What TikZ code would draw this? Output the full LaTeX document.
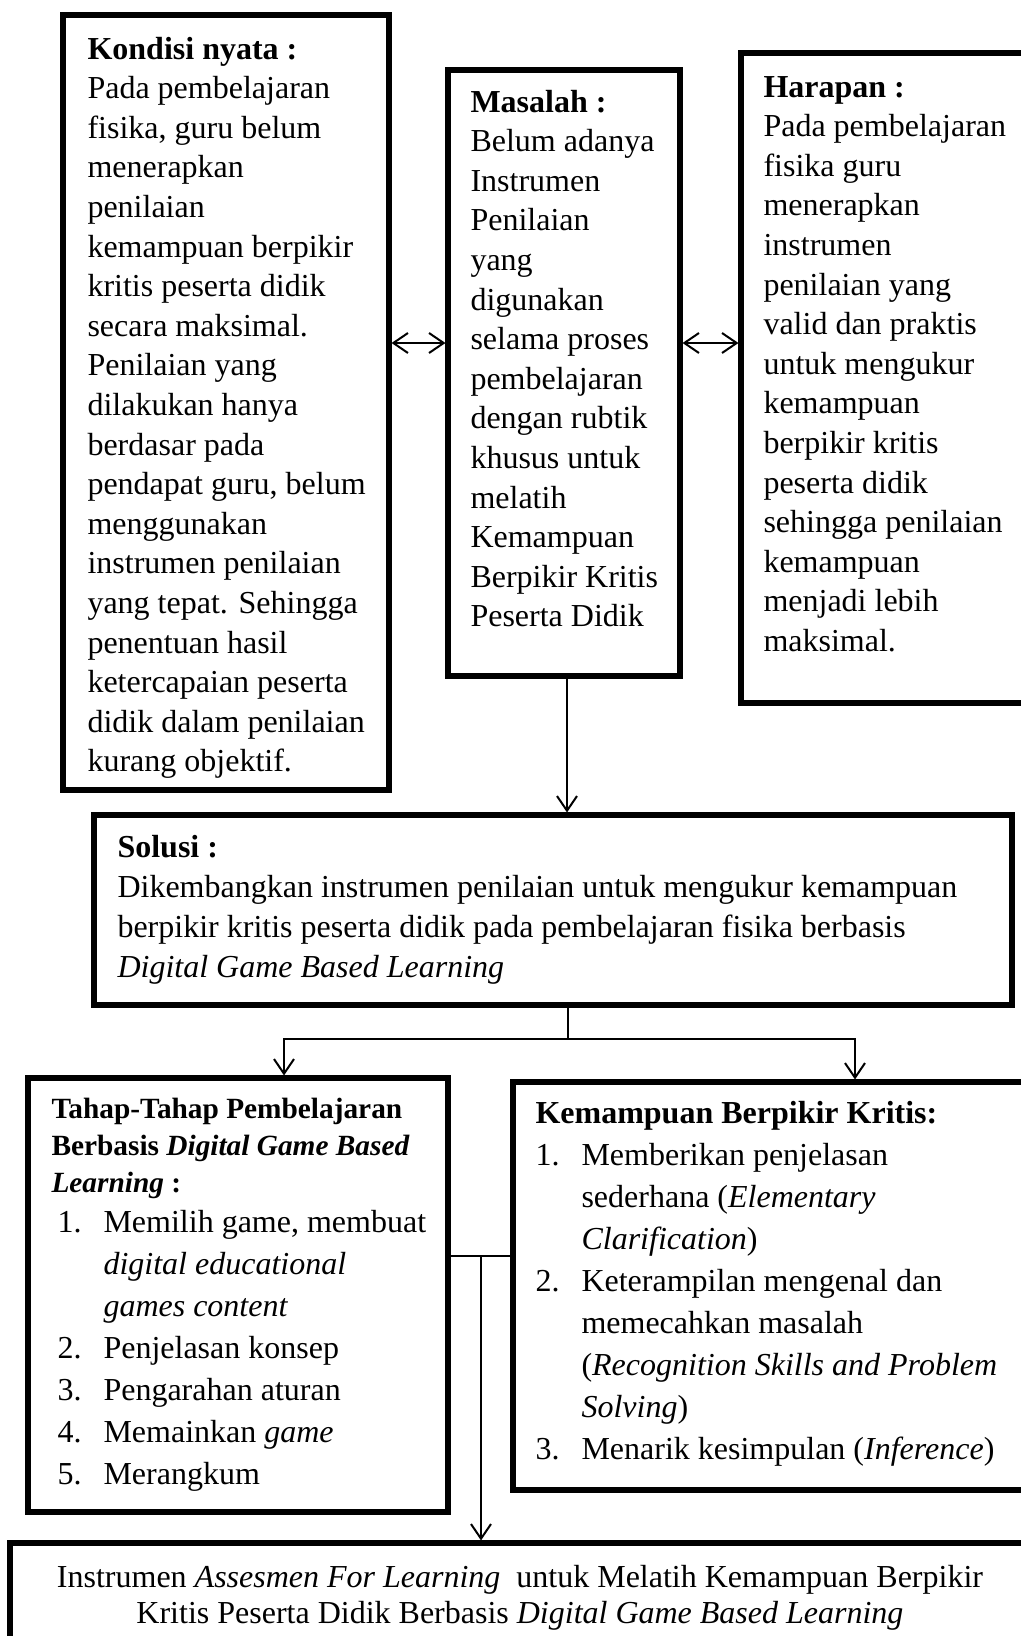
\documentclass[tikz,border=0pt]{standalone}
\usepackage{fontspec}
\setmainfont{Liberation Serif}
\usetikzlibrary{arrows.meta,fit}

\newcommand{\kotak}[3]{\parbox[t]{#1}{\fontsize{12}{#2}\selectfont #3}}
\newcommand{\nomor}[1]{\makebox[17.25pt][l]{#1}}
\newcommand{\lanjut}{\hspace*{17.25pt}}

\tikzset{
  box/.style={draw, line width=1.9pt, inner sep=0pt},
  txt/.style={inner sep=0pt, anchor=base west},
  link/.style={line width=0.75pt},
  >={Straight Barb[length=5.5pt,width=7.5pt]}
}

\begin{document}
\begin{tikzpicture}[x=0.375pt, y=-0.375pt]
        \useasboundingbox (0,0) rectangle (1021,1636);
        \clip (0,0) rectangle (1021,1636);

        % top row
        \node[box, fit={(63,15) (389,790)}] (kon) {};
        \node[box, fit={(448,70) (680,676)}] (mas) {};
        \node[box, fit={(741,53) (1035,703)}] (har) {};

        \node[txt] (kont) at (87,59) {\kotak{160pt}{14.85pt}{\textbf{Kondisi nyata :}\\
            Pada pembelajaran\\ fisika, guru belum\\ menerapkan\\ penilaian\\
            kemampuan berpikir\\ kritis peserta didik\\ secara maksimal.\\
            Penilaian yang\\ dilakukan hanya\\ berdasar pada\\ pendapat guru, belum\\
            menggunakan\\ instrumen penilaian\\ yang tepat. Sehingga\\ penentuan hasil\\
            ketercapaian peserta\\ didik dalam penilaian\\ kurang objektif.}};

        \node[txt] (mast) at (470,112) {\kotak{120pt}{14.85pt}{\textbf{Masalah :}\\
            Belum adanya\\ Instrumen\\ Penilaian\\ yang\\ digunakan\\ selama proses\\
            pembelajaran\\ dengan rubtik\\ khusus untuk\\ melatih\\ Kemampuan\\
            Berpikir Kritis\\ Peserta Didik}};

        \node[txt] (hart) at (763,97) {\kotak{120pt}{14.85pt}{\textbf{Harapan :}\\
            Pada pembelajaran\\ fisika guru\\ menerapkan\\ instrumen\\ penilaian yang\\
            valid dan praktis\\ untuk mengukur\\ kemampuan\\ berpikir kritis\\
            peserta didik\\ sehingga penilaian\\ kemampuan\\ menjadi lebih\\ maksimal.}};

        \coordinate (ay) at (0,343);
        \draw[link,<->] (kon.east |- ay) -- (mas.west |- ay);
        \draw[link,<->] (mas.east |- ay) -- (har.west |- ay);

        % solusi
        \node[box, fit={(94,815) (1012,1005)}] (sol) {};
        \node[txt] (solt) at (117,857) {\kotak{360pt}{15pt}{\textbf{Solusi :}\\
            Dikembangkan instrumen penilaian untuk mengukur kemampuan\\
            berpikir kritis peserta didik pada pembelajaran fisika berbasis\\
            \textit{Digital Game Based Learning}}};
        \coordinate (turun) at (567,0);
        \draw[link,->] (turun |- mas.south) -- (turun |- sol.north);

        % tahap dan kemampuan
        \node[box, fit={(28,1078) (448,1512)}] (tah) {};
        \node[box, fit={(513,1082) (1035,1490)}] (kem) {};

        \node[txt] (taht) at (51,1118) {\parbox[t]{150pt}{\fontsize{11}{13.9pt}\selectfont\bfseries
            Tahap-Tahap Pembelajaran\\ Berbasis \textit{Digital Game Based}\\ \textit{Learning} :}};
        \node[txt] (tahl) at (57,1232) {\kotak{150pt}{15.8pt}{%
            \nomor{1.}Memilih game, membuat\\ \lanjut\textit{digital educational}\\
            \lanjut\textit{games content}\\ \nomor{2.}Penjelasan konsep\\
            \nomor{3.}Pengarahan aturan\\ \nomor{4.}Memainkan \textit{game}\\
            \nomor{5.}Merangkum}};

        \node[txt] (kemt) at (535,1123) {\kotak{190pt}{15.75pt}{\textbf{Kemampuan Berpikir Kritis:}\\
            \nomor{1.}Memberikan penjelasan\\ \lanjut sederhana (\textit{Elementary}\\
            \lanjut\textit{Clarification})\\ \nomor{2.}Keterampilan mengenal dan\\
            \lanjut memecahkan masalah\\ \lanjut(\textit{Recognition Skills and Problem}\\
            \lanjut\textit{Solving})\\ \nomor{3.}Menarik kesimpulan (\textit{Inference})}};

        \coordinate (bagi) at (568,1039);
        \coordinate (ki) at (284,0);
        \coordinate (ka) at (855,0);
        \draw[link] (bagi |- sol.south) -- (bagi);
        \draw[link,->] (bagi) -| (ki |- tah.north);
        \draw[link,->] (bagi) -| (ka |- kem.north);

        % hasil
        \node[box, fit={(10,1543) (1035,1660)}] (fin) {};
        \node[inner sep=0pt, anchor=base] (fint) at (520,1587) {\parbox[t]{380pt}{\centering
            \fontsize{12}{13.7pt}\selectfont
            Instrumen \textit{Assesmen For Learning}\ \ untuk Melatih Kemampuan Berpikir\\
            Kritis Peserta Didik Berbasis \textit{Digital Game Based Learning}}};

        \coordinate (temu) at (481,1256);
        \draw[link] (tah.east |- temu) -- (kem.west |- temu);
        \draw[link,->] (temu) -- (temu |- fin.north);
\end{tikzpicture}
\end{document}
